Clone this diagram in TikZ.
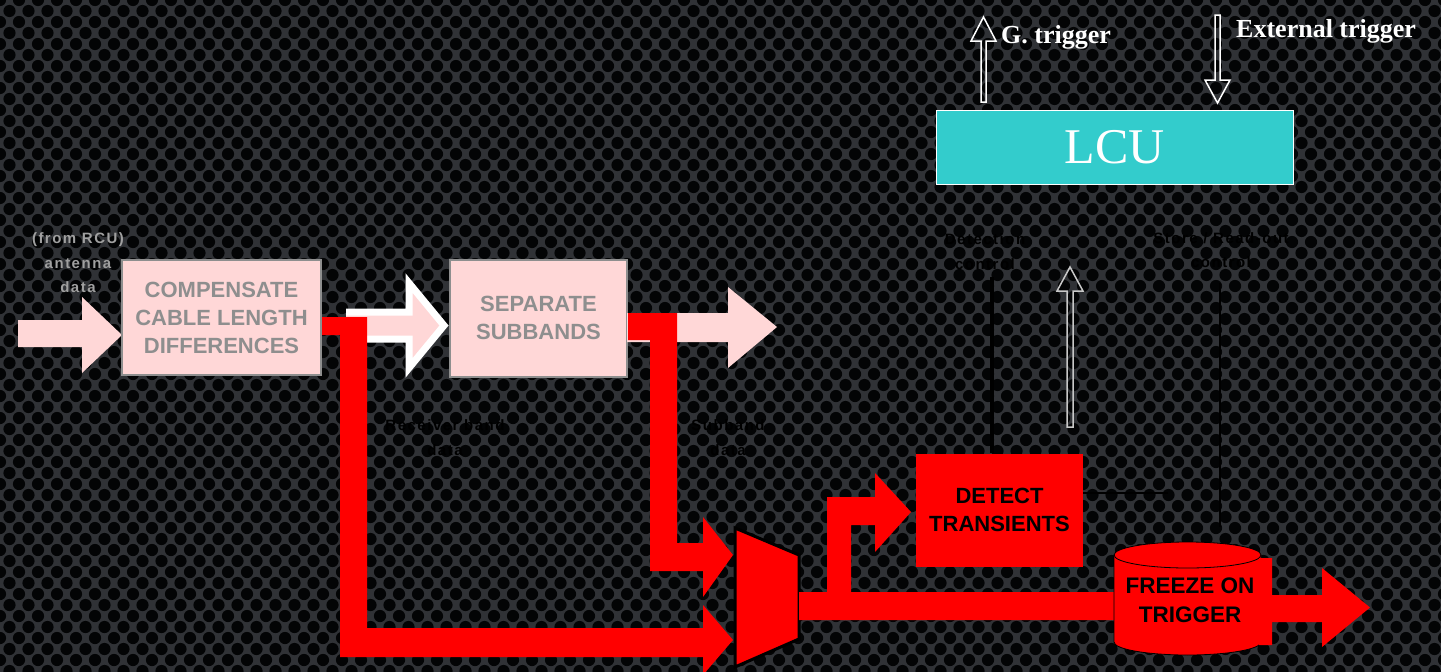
\documentclass[tikz,border=0pt]{standalone}
\usepackage{fontspec}
\setmainfont{Liberation Serif}
\newfontfamily\arial{Liberation Sans}
\newfontfamily\arialsp[LetterSpace=10]{Liberation Sans}
\definecolor{pinkbox}{HTML}{FFD7D7}
\definecolor{boxtext}{HTML}{8E8E8E}
\definecolor{smalltext}{HTML}{A0A0A0}
\definecolor{lcucol}{HTML}{33CCCC}
\definecolor{mesh}{HTML}{303236}
\definecolor{hole}{HTML}{030405}
\definecolor{redc}{HTML}{FF0000}
\tikzset{
  pbox/.style={draw=boxtext, line width=2, fill=pinkbox, text=boxtext, align=center,
    font=\arial\bfseries\fontsize{22}{28}\selectfont, inner sep=0},
  rbox/.style={fill=redc, text=black, align=center,
    font=\arial\bfseries\fontsize{22}{28}\selectfont, inner sep=0},
  small/.style={align=center, font=\arialsp\bfseries\fontsize{15}{24.5}\selectfont},
  trig/.style={text=white, font=\bfseries\fontsize{26}{30}\selectfont, anchor=west, inner sep=0},
  hollow/.style={draw=white, line width=1.5, line join=miter},
  fatred/.style={fill=redc},
  fatpink/.style={fill=pinkbox}
}
\begin{document}
\begin{tikzpicture}[x=1pt,y=-1pt]
\useasboundingbox (0,0) rectangle (1441,672);
% background mesh
\fill[mesh] (0,0) rectangle (1441,672);
\foreach \j in {0,...,62}{
  \pgfmathsetmacro{\off}{mod(\j,2)*9.5}
  \foreach \i in {0,...,76}{
    \fill[hole] ({\i*19+\off},{\j*11}) circle (6.1);
  }
}
% input arrow
\fill[fatpink] (18,320) -- (82,320) -- (82,297) -- (122,335) -- (82,373) -- (82,347) -- (18,347) -- cycle;
\node[small, text=smalltext] (src) at (78,263) {(from RCU)\\antenna\\data};
% boxes
\node[pbox, minimum width=199, minimum height=115] (comp) at (221.5,317.5) {COMPENSATE\\CABLE LENGTH\\DIFFERENCES};
\node[pbox, minimum width=177, minimum height=117] (sep) at (538.5,318) {SEPARATE\\SUBBANDS};
% white-outlined pink arrow between boxes
\fill[fatpink] (346,312) -- (409,312) -- (409,283) -- (444,325.5) -- (409,368) -- (409,339) -- (346,339) -- cycle;
\draw[white, line width=7, line join=miter] (346,312) -- (409,312) -- (409,283) -- (444,325.5) -- (409,368) -- (409,339) -- (346,339);
% pink arrow after sep
\fill[fatpink] (627,313) -- (728,313) -- (728,287) -- (777,327) -- (728,368) -- (728,342) -- (627,342) -- cycle;
% red path from comp to mux
\fill[fatred] (comp.east |- 0,317) -- (367,317) -- (367,628) -- (703,628) -- (703,605) -- (733,640) -- (703,675) -- (703,657) -- (340,657) -- (340,335) -- (comp.east |- 0,335) -- cycle;
% red path from sep to mux
\fill[fatred] (sep.east |- 0,313) -- (677,313) -- (677,543) -- (703,543) -- (703,517) -- (733,555) -- (703,597) -- (703,571) -- (650,571) -- (650,340) -- (sep.east |- 0,340) -- cycle;
% mux
\draw[fill=redc, draw=black, line width=3] (735,528) -- (799,555) -- (799,639) -- (735,667) -- cycle;
\coordinate (mux) at (767,597);
% detect box
\node[rbox, minimum width=167, minimum height=113] (det) at (999.5,510) {DETECT\\TRANSIENTS};
% mux output with branch to detect
\fill[fatred] (799,592) -- (827,592) -- (827,497) -- (875,497) -- (875,473) -- (911,512) -- (875,552) -- (875,525) -- (851,525) -- (851,592) -- (1116,592) -- (1116,620) -- (799,620) -- cycle;
% freeze cylinder
\fill[redc] (1114,555) -- (1114,642) arc[start angle=180, end angle=0, x radius=73.5, y radius=13] -- (1261,555) arc[start angle=0, end angle=-180, x radius=73.5, y radius=13] -- cycle;
\draw[black, line width=0.8] (1114,555) -- (1114,642) arc[start angle=180, end angle=0, x radius=73.5, y radius=13] -- (1261,555);
\draw[black, line width=0.8] (1187.5,555) ellipse[x radius=73.5, y radius=13];
\node[rbox, fill=none, font=\arial\bfseries\fontsize{22.5}{29}\selectfont] (frz) at (1190,600) {FREEZE ON\\TRIGGER};
% output arrow
\fill[fatred] (1259,558) -- (1272,558) -- (1272,595) -- (1322,595) -- (1322,568) -- (1370,607.5) -- (1322,647) -- (1322,622) -- (1272,622) -- (1272,645) -- (1259,645) -- cycle;
% LCU
\node[draw=white, line width=0.8, fill=lcucol, minimum width=357, minimum height=74, inner sep=0,
  text=white, font=\fontsize{50}{55}\selectfont] (lcu) at (1114.5,147) {LCU};
% trigger arrows
\draw[hollow] (981,102) -- (981,41) -- (971,41) -- (983.5,17) -- (996,41) -- (986,41) -- (986,102) -- cycle;
\node[trig] (gtr) at (1001,37) {G. trigger};
\draw[hollow] (1215,15) -- (1215,80) -- (1205,80) -- (1217.5,103) -- (1230,80) -- (1220,80) -- (1220,15) -- cycle;
\node[trig] (etr) at (1236,31) {External trigger};
% detect -> LCU hollow arrow
\draw[hollow, draw={rgb,255:red,200;green,200;blue,200}] (1067,427) -- (1067,291) -- (1057,291) -- (1070,267) -- (1083,291) -- (1073,291) -- (1073,427) -- cycle;
% black control lines and labels
\node[small, text=black] (dctl) at (985,251.5) {Detection\\control};
\node[small, text=black] (sctl) at (1221,250) {Store / Read-out\\control};
\coordinate (dtop) at (992,277);
\coordinate (stop) at (1220,283);
\coordinate (send) at (1220,527);
\coordinate (hend) at (1168,493);
\draw[black, line width=4] (dtop) -- (dtop |- det.north);
\draw[black, line width=2] (stop) -- (send);
\draw[black, line width=1.5] (det.east |- hend) -- (hend);
\node[small, text=black] (rbd) at (445,437.5) {Receiver band\\data};
\node[small, text=black] (sbd) at (728,437.5) {Subband\\data};
\end{tikzpicture}
\end{document}
